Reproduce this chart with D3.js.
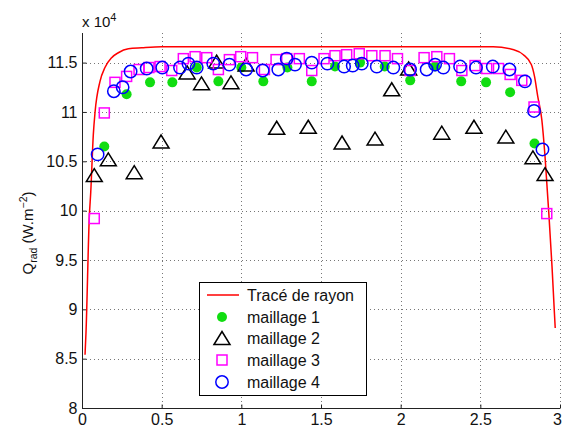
<!DOCTYPE html>
<html><head><meta charset="utf-8">
<script src="https://cdn.jsdelivr.net/npm/d3@7"></script>
<style>body{margin:0;background:#fff}svg{display:block;font-family:"Liberation Sans",Arial,Helvetica,sans-serif}</style>
</head><body><svg id="c" width="563" height="430"></svg>
<script>
// Ray tracing curve (x, Q/1e4)
const rayX = [0.019,0.025,0.046,0.055,0.071,0.082,0.113,0.144,0.186,0.228,0.291,0.375,0.5,1.0,1.5,2.0,2.58,2.71,2.77,2.82,2.84,2.86,2.886,2.906,2.93,2.95,2.965,2.97];
const rayY = [8.54,8.76,9.94,10.19,10.77,11.00,11.31,11.45,11.55,11.60,11.64,11.65,11.66,11.66,11.66,11.66,11.66,11.63,11.58,11.48,11.36,11.16,10.92,10.55,9.97,9.43,8.96,8.81];

const m1X = [0.14,0.28,0.427,0.567,0.72,0.856,1.0,1.138,1.289,1.442,1.588,1.745,1.90,2.06,2.216,2.38,2.536,2.687,2.84];
const m1Y = [10.65,11.18,11.30,11.30,11.45,11.31,11.45,11.31,11.45,11.31,11.46,11.50,11.46,11.32,11.46,11.31,11.30,11.20,10.68];

const m2X = [0.077,0.165,0.328,0.496,0.66,0.75,0.845,0.935,1.03,1.222,1.42,1.632,1.839,1.944,2.05,2.258,2.46,2.66,2.83,2.906];
const m2Y = [10.36,10.52,10.39,10.70,11.40,11.29,11.51,11.30,11.48,10.84,10.85,10.69,10.73,11.23,11.44,10.79,10.85,10.75,10.54,10.37];

const m3X = [0.077,0.14,0.207,0.28,0.358,0.42,0.49,0.563,0.636,0.71,0.783,0.856,0.925,0.996,1.07,1.145,1.218,1.285,1.364,1.442,1.519,1.588,1.661,1.74,1.819,1.902,1.98,2.059,2.147,2.227,2.306,2.384,2.467,2.54,2.614,2.687,2.76,2.837,2.917];
const m3Y = [9.92,10.99,11.30,11.36,11.43,11.45,11.46,11.42,11.54,11.56,11.55,11.43,11.53,11.56,11.55,11.43,11.53,11.54,11.54,11.42,11.54,11.57,11.58,11.59,11.57,11.57,11.54,11.42,11.55,11.56,11.54,11.42,11.47,11.44,11.44,11.38,11.32,11.05,9.97];

const m4X = [0.098,0.2,0.255,0.305,0.406,0.504,0.615,0.668,0.72,0.824,0.925,1.03,1.134,1.232,1.285,1.337,1.442,1.54,1.645,1.699,1.756,1.85,1.954,2.059,2.163,2.216,2.268,2.373,2.473,2.578,2.683,2.78,2.837,2.89];
const m4Y = [10.57,11.21,11.25,11.41,11.44,11.45,11.45,11.49,11.45,11.49,11.48,11.43,11.42,11.43,11.54,11.48,11.50,11.49,11.46,11.47,11.49,11.46,11.45,11.43,11.43,11.48,11.45,11.46,11.45,11.46,11.43,11.31,11.01,10.62];

const xTicks = [0,0.5,1,1.5,2,2.5,3];
const yTicks = [8,8.5,9,9.5,10,10.5,11,11.5];
const legendLabels = ["Tracé de rayon","maillage 1","maillage 2","maillage 3","maillage 4"];

const svg = d3.select("#c");
const x = d3.scaleLinear().domain([0,3]).range([82,560]);
const y = d3.scaleLinear().domain([8,11.8]).range([408,33]);

// grid
const grid = svg.append("g").attr("stroke","#777").attr("stroke-width",1).attr("stroke-dasharray","1,3");
xTicks.slice(1).forEach(t=>grid.append("line").attr("x1",Math.round(x(t))+0.5).attr("x2",Math.round(x(t))+0.5).attr("y1",y(11.8)).attr("y2",y(8)));
yTicks.slice(1).forEach(t=>grid.append("line").attr("y1",Math.round(y(t))+0.5).attr("y2",Math.round(y(t))+0.5).attr("x1",x(0)).attr("x2",x(3)));

// axes
const xAxis = d3.axisBottom(x).tickValues(xTicks).tickSize(-4).tickPadding(8).tickFormat(d=>d3.format("")(d));
const yAxis = d3.axisLeft(y).tickValues(yTicks).tickSize(-4).tickPadding(5).tickFormat(d=>d3.format("")(d));
const gx = svg.append("g").attr("transform","translate(0,408.5)").call(xAxis);
const gy = svg.append("g").attr("transform","translate(82.5,0)").call(yAxis);
[gx,gy].forEach(g=>{
  g.select(".domain").attr("stroke","#222").attr("stroke-width",1);
  g.selectAll(".tick line").attr("stroke","#222");
  g.selectAll("text").attr("font-size",16).attr("fill","#111").attr("font-family","Liberation Sans, Arial, sans-serif");
});
gx.select(".domain").attr("d","M82,0H560");
gy.select(".domain").attr("d","M0,33V408");
gx.selectAll(".tick text").attr("dy","0.5em");
gx.selectAll(".tick text").filter(d=>d===3).attr("dx",-3);

// exponent
const ex = svg.append("text").attr("x",82).attr("y",27).attr("font-size",15).attr("fill","#111");
ex.append("tspan").text("x 10");
ex.append("tspan").attr("dy",-6).attr("font-size",11).text("4");

// y title
const yt = svg.append("text").attr("transform","translate(33,233) rotate(-90)").attr("text-anchor","middle").attr("font-size",15).attr("fill","#111");
yt.append("tspan").text("Q");
yt.append("tspan").attr("dy",4).attr("font-size",10.5).text("rad");
yt.append("tspan").attr("dy",-4).text(" (W.m");
yt.append("tspan").attr("dy",-6).attr("font-size",10.5).text("−2");
yt.append("tspan").attr("dy",6).text(")");

// ray line
const rayData = rayX.map((d,i)=>[d,rayY[i]]);
svg.append("path").datum(rayData).attr("fill","none").attr("stroke","#ff0000").attr("stroke-width",1.5)
  .attr("d",d3.line().x(d=>x(d[0])).y(d=>y(d[1])).curve(d3.curveMonotoneX));

const green="#11dd11", mag="#ff00ff", blue="#0000ff";
function tri(cx,cy){const w=8,h=13;return `M${cx-w},${cy+h/2}L${cx},${cy-h/2}L${cx+w},${cy+h/2}Z`;}

svg.append("g").selectAll("circle").data(m1X.map((d,i)=>[d,m1Y[i]])).join("circle")
  .attr("cx",d=>x(d[0])).attr("cy",d=>y(d[1])).attr("r",5).attr("fill",green);
svg.append("g").selectAll("path").data(m2X.map((d,i)=>[d,m2Y[i]])).join("path")
  .attr("d",d=>tri(x(d[0]),y(d[1]))).attr("fill","none").attr("stroke","#000").attr("stroke-width",1.5);
svg.append("g").selectAll("rect").data(m3X.map((d,i)=>[d,m3Y[i]])).join("rect")
  .attr("x",d=>x(d[0])-5).attr("y",d=>y(d[1])-5).attr("width",10).attr("height",10).attr("fill","none").attr("stroke",mag).attr("stroke-width",1.5);
svg.append("g").selectAll("circle").data(m4X.map((d,i)=>[d,m4Y[i]])).join("circle")
  .attr("cx",d=>x(d[0])).attr("cy",d=>y(d[1])).attr("r",6.2).attr("fill","none").attr("stroke",blue).attr("stroke-width",1.5);

// legend
const lg = svg.append("g");
lg.append("rect").attr("x",199.5).attr("y",282.5).attr("width",167).attr("height",113).attr("fill","#fff").attr("stroke","#000").attr("stroke-width",1);
const ly = [295,317,338,360,382];
const lx = 222;
lg.append("line").attr("x1",207).attr("x2",239).attr("y1",ly[0]).attr("y2",ly[0]).attr("stroke","#ff0000").attr("stroke-width",1.5);
lg.append("circle").attr("cx",lx).attr("cy",ly[1]).attr("r",5).attr("fill",green);
lg.append("path").attr("d",tri(lx,ly[2])).attr("fill","none").attr("stroke","#000").attr("stroke-width",1.5);
lg.append("rect").attr("x",lx-5).attr("y",ly[3]-5).attr("width",10).attr("height",10).attr("fill","none").attr("stroke",mag).attr("stroke-width",1.5);
lg.append("circle").attr("cx",lx).attr("cy",ly[4]).attr("r",6.2).attr("fill","none").attr("stroke",blue).attr("stroke-width",1.5);
legendLabels.forEach((t,i)=>lg.append("text").attr("x",247).attr("y",ly[i]).attr("dy","0.35em").attr("font-size",16).attr("fill","#111").text(t));
</script></body></html>
